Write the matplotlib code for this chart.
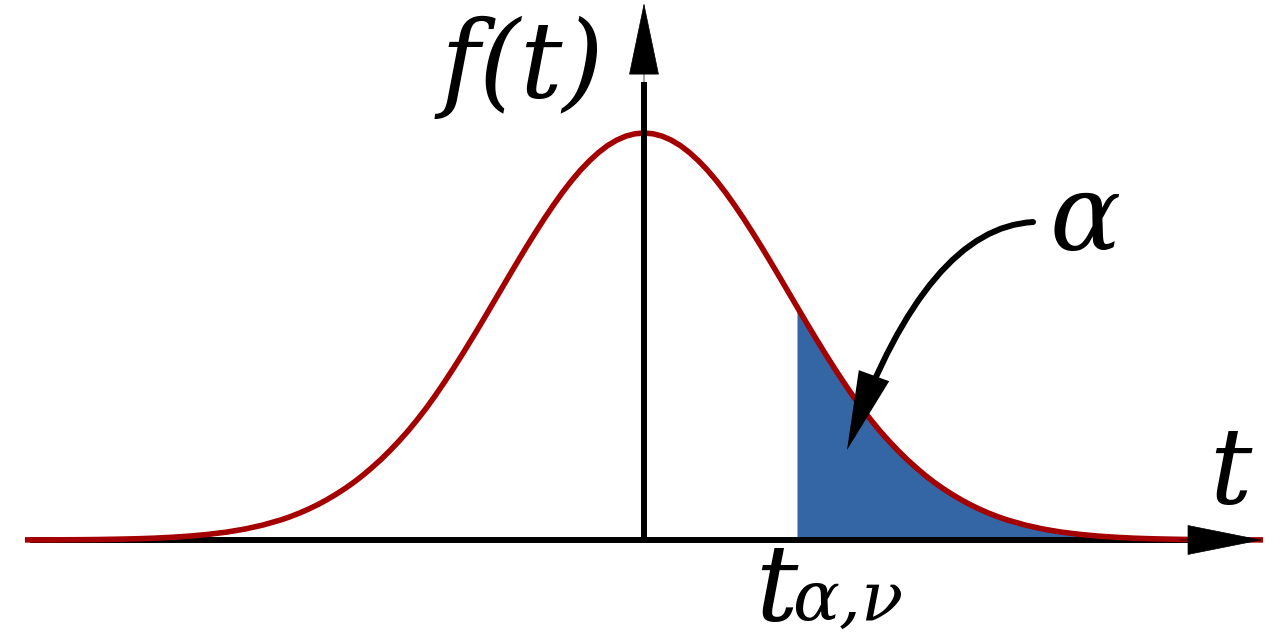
import numpy as np
import matplotlib
matplotlib.use("Agg")
import matplotlib.pyplot as plt
from matplotlib.patches import FancyArrowPatch

# density, right half (the curve is symmetric)
t_half = [0.0, 0.0625, 0.125, 0.1875, 0.25, 0.3125, 0.375, 0.4375, 0.5, 0.5625,
          0.625, 0.6875, 0.75, 0.8125, 0.875, 0.9375, 1.0, 1.0625, 1.125, 1.1875,
          1.25, 1.3125, 1.375, 1.4375, 1.5, 1.5625, 1.625, 1.6875, 1.75, 1.8125,
          1.875, 1.9375, 2.0, 2.0625, 2.125, 2.1875, 2.25, 2.3125, 2.375, 2.4375,
          2.5, 2.625, 2.75, 2.875, 3.0, 3.125, 3.25, 3.375, 3.5, 3.625, 3.75,
          3.875, 4.0, 4.125, 4.25]
f_half = [0.4000, 0.3992, 0.3969, 0.3930, 0.3877, 0.3809, 0.3728, 0.3635, 0.3530,
          0.3415, 0.3290, 0.3158, 0.3019, 0.2876, 0.2728, 0.2578, 0.2426, 0.2275,
          0.2124, 0.1976, 0.1831, 0.1690, 0.1554, 0.1423, 0.1299, 0.1184, 0.1075,
          0.0975, 0.0881, 0.0793, 0.0713, 0.0637, 0.0568, 0.0505, 0.0448, 0.0395,
          0.0347, 0.0304, 0.0265, 0.0230, 0.0199, 0.0148, 0.0108, 0.0078, 0.0056,
          0.0039, 0.0027, 0.0018, 0.0012, 0.0008, 0.0005, 0.0003, 0.0002, 0.0001,
          0.0001]
t_alpha = 1.055

t = np.concatenate([-np.array(t_half[:0:-1]), t_half])
f = np.concatenate([f_half[:0:-1], f_half])

red = '#a40000'
blue = '#3465a4'
lw_axis = 4.3

fig = plt.figure(figsize=(12.8, 6.4), dpi=100)
ax = fig.add_axes([0, 0, 1, 1])
ax.set_xlim(-4.441, 4.386)
ax.set_ylim(-0.0983, 0.5307)
ax.axis('off')

# shaded tail
mask = t > t_alpha
tt = np.concatenate([[t_alpha], t[mask]])
ff = np.concatenate([[np.interp(t_alpha, t, f)], f[mask]])
ax.fill_between(tt, 0, ff, color=blue, lw=0, zorder=0.5)

# x axis
ax.plot([-4.234, 3.80], [0, 0], color='black', lw=lw_axis, zorder=1,
        solid_capstyle='butt')
ax.plot(t, f, color=red, lw=4.0, zorder=2, solid_joinstyle='round')
ax.add_patch(FancyArrowPatch((3.70, 0), (4.262, 0),
                             arrowstyle='-|>,head_length=52,head_width=10.4',
                             color='black', lw=0.5, shrinkA=0, shrinkB=0, zorder=3))

# y axis
ax.plot([0, 0], [0, 0.45], color='black', lw=lw_axis, zorder=3,
        solid_capstyle='butt')
ax.add_patch(FancyArrowPatch((0, 0.40), (0, 0.5278),
                             arrowstyle='-|>,head_length=50,head_width=10.4',
                             color='black', lw=0.5, shrinkA=0, shrinkB=0, zorder=3))

# curved pointer to the tail area
ax.add_patch(FancyArrowPatch((2.683, 0.3125), (1.400, 0.0885),
                             connectionstyle='angle3,angleA=3,angleB=70',
                             arrowstyle='-|>,head_length=44,head_width=9',
                             color='black', lw=lw_axis, joinstyle='miter',
                             shrinkA=0, shrinkB=0, zorder=4))

txt = dict(family='DejaVu Serif', style='italic', color='black', ha='left', va='baseline')
ax.text(-1.40, 0.4354, 'f(t)', fontsize=76, **txt)
ax.text(3.90, 0.0364, 't', fontsize=76, **txt)
ax.text(2.80, 0.285, 'α', fontsize=76, **txt)
ax.text(0.77, -0.0786, 't', fontsize=76, **txt)
ax.text(1.02, -0.0786, 'α,ν', fontsize=50, **txt)

fig.savefig('out.png', dpi=100)
